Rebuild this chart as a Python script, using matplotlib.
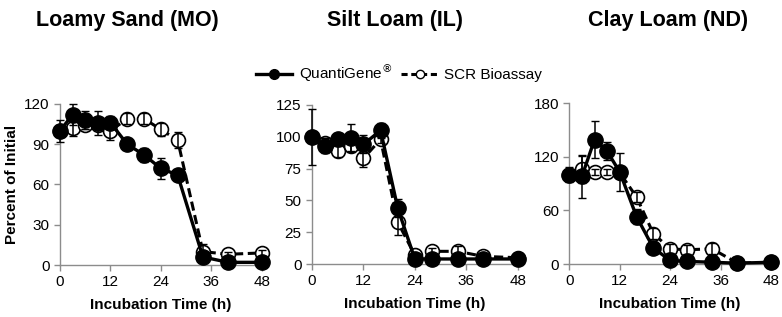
import matplotlib
matplotlib.use("Agg")
import matplotlib.pyplot as plt
from matplotlib.lines import Line2D

plt.rcParams['font.family'] = ['Liberation Sans', 'DejaVu Sans']

times = [0, 3, 6, 9, 12, 16, 20, 24, 28, 34, 40, 48]

titles = ["Loamy Sand (MO)", "Silt Loam (IL)", "Clay Loam (ND)"]

qg_ms = [100, 112, 108, 106, 106, 90, 82, 72, 67, 6, 2, 2]
qg_ms_err = [4, 8, 7, 9, 5, 3, 5, 8, 3, 2, 1, 1]
scr_ms = [100, 102, 104, 104, 100, 109, 109, 101, 93, 10, 8, 9]
scr_ms_err = [8, 6, 3, 3, 7, 4, 4, 5, 6, 6, 2, 2]

qg_il = [100, 93, 98, 99, 94, 105, 44, 4, 4, 4, 4, 4]
qg_il_err = [3, 6, 5, 11, 7, 6, 7, 1, 1, 1, 1, 1]
scr_il = [100, 95, 89, 93, 83, 98, 33, 7, 10, 10, 6, 5]
scr_il_err = [22, 4, 5, 4, 7, 3, 10, 2, 3, 4, 2, 1]

qg_nd = [100, 98, 139, 126, 103, 53, 18, 4, 3, 2, 1, 2]
qg_nd_err = [8, 24, 21, 10, 21, 8, 3, 1, 1, 1, 1, 1]
scr_nd = [100, 106, 103, 103, 102, 75, 34, 17, 16, 17, 1, 2]
scr_nd_err = [5, 15, 3, 3, 3, 6, 6, 5, 5, 6, 1, 1]

ylims = [(0, 120), (0, 125), (0, 180)]
yticks = [[0, 30, 60, 90, 120], [0, 25, 50, 75, 100, 125], [0, 60, 120, 180]]
xticks = [0, 12, 24, 36, 48]

data = [(qg_ms, qg_ms_err, scr_ms, scr_ms_err),
        (qg_il, qg_il_err, scr_il, scr_il_err),
        (qg_nd, qg_nd_err, scr_nd, scr_nd_err)]

fig = plt.figure(figsize=(7.82, 3.17), dpi=100)
rects = [[0.0767, 0.164, 0.258, 0.508],
         [0.399, 0.167, 0.263, 0.502],
         [0.728, 0.167, 0.258, 0.508]]
title_x = [0.163, 0.505, 0.854]

for i, (rect, (qg, qge, scr, scre)) in enumerate(zip(rects, data)):
    ax = fig.add_axes(rect)
    ax.plot(times, scr, color='black', ls=(0, (3, 1.5)), lw=2.2,
            marker='o', ms=10, mfc='white', mec='black', mew=1.2,
            zorder=2, clip_on=False)
    ax.plot(times, qg, color='black', ls='-', lw=2.4,
            marker='o', ms=11, mfc='black', mec='black',
            zorder=3, clip_on=False)
    ax.errorbar(times, scr, yerr=scre, fmt='none', ecolor='black',
                elinewidth=1.1, capsize=3, zorder=4, clip_on=False)
    ax.errorbar(times, qg, yerr=qge, fmt='none', ecolor='black',
                elinewidth=1.1, capsize=3, zorder=4, clip_on=False)
    ax.set_xlim(0, 48)
    ax.set_ylim(*ylims[i])
    ax.set_xticks(xticks)
    ax.set_yticks(yticks[i])
    for s in ['top', 'right']:
        ax.spines[s].set_visible(False)
    for s in ['left', 'bottom']:
        ax.spines[s].set_color('#8c8c8c')
        ax.spines[s].set_linewidth(1.0)
    ax.tick_params(axis='both', labelsize=11, color='#8c8c8c', length=4, width=1.0,
                   direction='out')
    ax.set_xlabel("Incubation Time (h)", fontsize=11, fontweight='bold', labelpad=6)
    if i == 0:
        ax.set_ylabel("Percent of Initial", fontsize=11, fontweight='bold', labelpad=4)
    fig.text(title_x[i], 0.935, titles[i], fontsize=15.5, fontweight='bold',
             ha='center', va='center')

handles = [Line2D([], [], color='black', ls='-', lw=2.4, marker='o', ms=7, mfc='black'),
           Line2D([], [], color='black', ls=(0, (2, 1.2)), lw=2.2, marker='o', ms=6,
                  mfc='white', mew=1.0)]
fig.legend(handles, ["QuantiGene$^{\u00ae}$", "SCR Bioassay"], loc='center',
           bbox_to_anchor=(0.51, 0.77), ncol=2, frameon=False, fontsize=11,
           handlelength=2.4, columnspacing=0.6, handletextpad=0.4)

fig.savefig("out.png", dpi=100)
